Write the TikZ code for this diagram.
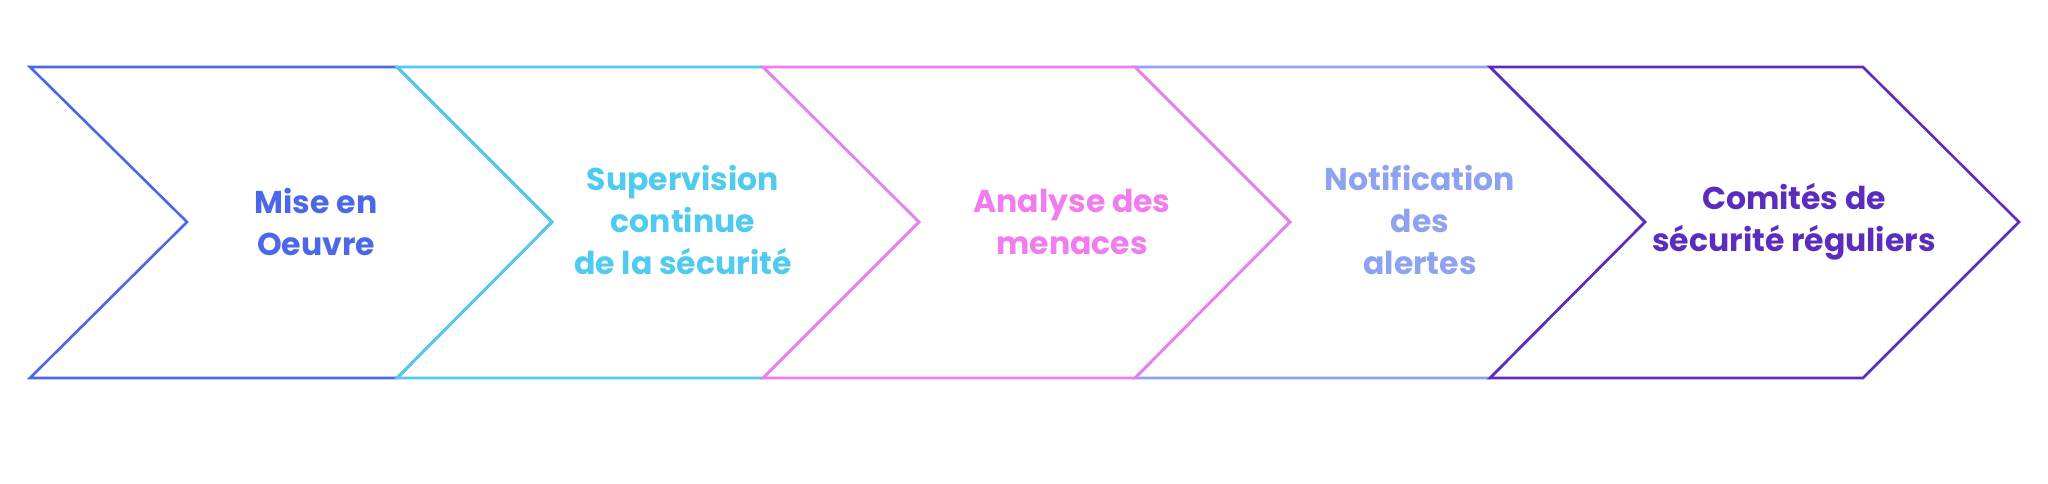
\documentclass[tikz,border=0pt]{standalone}
\usepackage{fontspec}
\setmainfont{Poppins}
\definecolor{cA}{HTML}{4A68E8}
\definecolor{cB}{HTML}{4FCBF0}
\definecolor{cC}{HTML}{F27CEE}
\definecolor{cD}{HTML}{8EA2F0}
\definecolor{cE}{HTML}{5A2DBE}
\begin{document}
\begin{tikzpicture}[x=1pt,y=-1pt,
  chev/.style={line width=2.6pt, line join=miter},
  lbl/.style={font=\fontsize{31.5}{42}\selectfont\bfseries, align=center, inner sep=0pt}]
\useasboundingbox (0,0) rectangle (2048,484);
\fill[white] (0,0) rectangle (2048,484);
% chevrons: top-left x, notch x, top-right x, tip x
\draw[chev,cA] (30,67) -- (397,67) -- (552,222) -- (397,378) -- (30,378) -- (187,222) -- cycle;
\draw[chev,cB] (397,67) -- (763,67) -- (919,222) -- (763,378) -- (397,378) -- (552,222) -- cycle;
\draw[chev,cD] (1135,67) -- (1490,67) -- (1645,222) -- (1490,378) -- (1135,378) -- (1290,222) -- cycle;
\draw[chev,cC] (763,67) -- (1135,67) -- (1290,222) -- (1135,378) -- (763,378) -- (919,222) -- cycle;
\draw[chev,cE] (1490,67) -- (1863,67) -- (2019,222) -- (1863,378) -- (1490,378) -- (1645,222) -- cycle;
\node[lbl,text=cA] (t1) at (316,222) {Mise en\\Oeuvre};
\node[lbl,text=cB] (t2) at (683,220) {Supervision\\continue\\de la sécurité};
\node[lbl,text=cC] (t3) at (1072,222) {Analyse des\\menaces};
\node[lbl,text=cD] (t4) at (1420,220) {Notification\\des\\alertes};
\node[lbl,text=cE] (t5) at (1794,222) {Comités de\\sécurité réguliers};
\end{tikzpicture}
\end{document}
